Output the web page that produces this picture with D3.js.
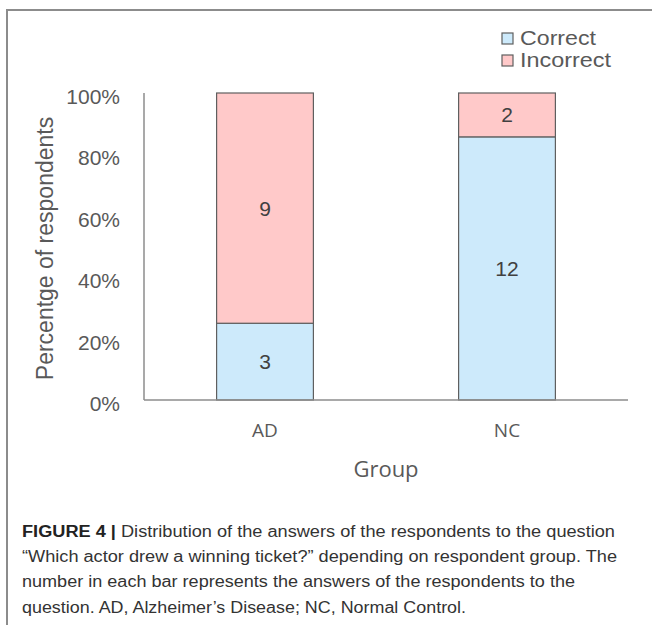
<!DOCTYPE html>
<html>
<head>
<meta charset="utf-8">
<script src="https://cdn.jsdelivr.net/npm/d3@7"></script>
<style>
  body { margin: 0; background: #fff; }
</style>
</head>
<body>
<div id="chartArea"></div>
<script>
const groups = ["AD", "NC"];
const correct = [3, 12];
const incorrect = [9, 2];
const seriesNames = ["Correct", "Incorrect"];
const seriesColors = ["#cdeafb", "#ffc9c9"];
const yTicks = [0, 0.2, 0.4, 0.6, 0.8, 1];
const caption = [
  "“Which actor drew a winning ticket?” depending on respondent group. The",
  "number in each bar represents the answers of the respondents to the",
  "question. AD, Alzheimer’s Disease; NC, Normal Control."
];

const width = 652;
const height = 625;
const margin = { top: 93, left: 144, bottom: 225, right: 24 };
const iwidth = width - margin.left - margin.right;
const iheight = height - margin.top - margin.bottom;
const sans = "'Liberation Sans', Arial, sans-serif";
const open = "'Open Sans', sans-serif";

const svg = d3.select("#chartArea").append("svg")
  .attr("width", width)
  .attr("height", height)
  .style("font-family", sans);

// figure frame (top + left)
svg.append("path")
  .attr("d", `M7,${height} L7,10 L${width},10`)
  .attr("fill", "none")
  .attr("stroke", "#8c8c8c")
  .attr("stroke-width", 2);

const g = svg.append("g")
  .attr("transform", `translate(${margin.left},${margin.top})`);

const rows = groups.map((name, i) => {
  const total = correct[i] + incorrect[i];
  return { name, Correct: correct[i] / total, Incorrect: incorrect[i] / total,
           nCorrect: correct[i], nIncorrect: incorrect[i] };
});

const stacked = d3.stack().keys(seriesNames)(rows);

const x = d3.scaleBand().domain(groups).range([0, iwidth]);
const y = d3.scaleLinear().domain([0, 1]).range([iheight, 0]);
const barW = x.bandwidth() * 0.4;

//Draw-bars
stacked.forEach((layer, li) => {
  const lg = g.append("g");
  lg.selectAll("rect").data(layer).enter().append("rect")
    .attr("x", d => x(d.data.name) + (x.bandwidth() - barW) / 2)
    .attr("y", d => y(d[1]))
    .attr("width", barW)
    .attr("height", d => y(d[0]) - y(d[1]))
    .attr("fill", seriesColors[li])
    .attr("stroke", "#5f5f5f")
    .attr("stroke-width", 1.2);
  lg.selectAll("text").data(layer).enter().append("text")
    .attr("x", d => x(d.data.name) + x.bandwidth() / 2)
    .attr("y", d => (y(d[0]) + y(d[1])) / 2)
    .attr("dy", "0.36em")
    .attr("text-anchor", "middle")
    .style("font-size", "21px")
    .attr("fill", "#404040")
    .text(d => d.data["n" + layer.key]);
});

//Axes lines
g.append("line").attr("x1", 0).attr("x2", 0).attr("y1", 0).attr("y2", iheight)
  .attr("stroke", "#8c8c8c").attr("stroke-width", 1.5);
g.append("line").attr("x1", 0).attr("x2", iwidth).attr("y1", iheight).attr("y2", iheight)
  .attr("stroke", "#8c8c8c").attr("stroke-width", 1.5);

//Y-Axis labels
const yAxis = g.append("g").call(d3.axisLeft(y).tickValues(yTicks).tickSize(0).tickPadding(24)
  .tickFormat(d3.format(".0%")));
yAxis.select(".domain").remove();
yAxis.selectAll("text")
  .style("font-family", sans)
  .style("font-size", "21px")
  .attr("fill", "#595959")
  .attr("dy", "0.5em");

//X-Axis labels
const xAxis = g.append("g").attr("transform", `translate(0,${iheight})`)
  .call(d3.axisBottom(x).tickSize(0).tickPadding(24));
xAxis.select(".domain").remove();
xAxis.selectAll("text")
  .style("font-family", open)
  .style("font-size", "19px")
  .attr("fill", "#595959");

// axis titles
svg.append("text")
  .attr("transform", `translate(53,${margin.top + iheight / 2 + 2}) rotate(-90)`)
  .attr("text-anchor", "middle")
  .style("font-size", "23px")
  .attr("fill", "#595959")
  .text("Percentge of respondents");

svg.append("text")
  .attr("x", margin.left + iwidth / 2)
  .attr("y", 477)
  .attr("text-anchor", "middle")
  .style("font-family", open)
  .style("font-size", "22px")
  .attr("fill", "#595959")
  .text("Group");

// legend
const legendLen = [76, 91];
const legend = svg.append("g").attr("transform", "translate(502,33)");
seriesNames.forEach((s, i) => {
  legend.append("rect")
    .attr("x", 0).attr("y", i * 22)
    .attr("width", 11).attr("height", 11)
    .attr("fill", seriesColors[i])
    .attr("stroke", "#5f5f5f")
    .attr("stroke-width", 1.2);
  legend.append("text")
    .attr("x", 18).attr("y", i * 22 + 12)
    .style("font-size", "21px")
    .attr("textLength", legendLen[i]).attr("lengthAdjust", "spacingAndGlyphs")
    .attr("fill", "#595959")
    .text(s);
});

// caption
const cap1 = svg.append("text").attr("x", 22).attr("y", 537)
  .style("font-size", "16px").attr("fill", "#333")
  .attr("textLength", 593).attr("lengthAdjust", "spacingAndGlyphs");
cap1.append("tspan").attr("font-weight", "bold").attr("fill", "#222").text("FIGURE 4 | ");
cap1.append("tspan").text("Distribution of the answers of the respondents to the question");

const capEnds = [617, 575, 466];
caption.forEach((line, i) => {
  svg.append("text")
    .attr("x", 22).attr("y", 562 + i * 25.3)
    .style("font-size", "16px").attr("fill", "#333")
    .attr("textLength", capEnds[i] - 22).attr("lengthAdjust", "spacingAndGlyphs")
    .text(line);
});
</script>
</body>
</html>
